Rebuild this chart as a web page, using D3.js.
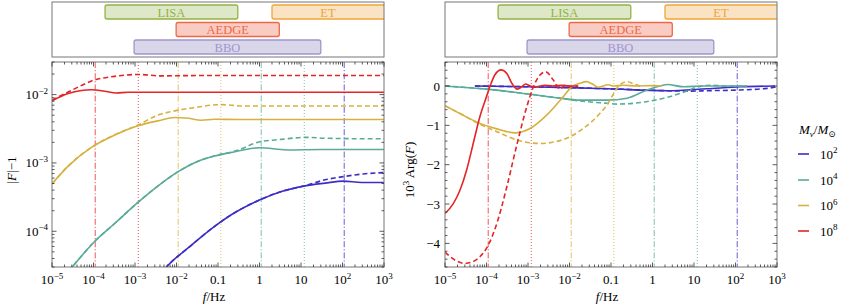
<!DOCTYPE html>
<html><head><meta charset="utf-8">
<script src="https://cdn.jsdelivr.net/npm/d3@7"></script>
<style>body{margin:0;background:#fff}svg{display:block;font-family:"Liberation Serif","DejaVu Serif",serif}</style>
</head><body><svg id="c" width="843" height="306"></svg>
<script>
// ---------- data ----------
const bandNames = ["LISA", "ET", "AEDGE", "BBO"];
const bandLo = [1.9e-4, 2.0, 9.8e-3, 9.5e-4];
const bandHi = [0.30, 5e3, 3.0, 30];
const bandRow = [0, 0, 1, 2];
const bandFill = ["#dee8c9", "#f9e3c3", "#f9ccc3", "#dad6ea"];
const bandStroke = ["#93b343", "#efa53c", "#ef6844", "#9f95cd"];

const massExp = ["2", "4", "6", "8"];
const massColor = ["#3d2dc6", "#5aab98", "#d7b13f", "#e32527"];
const refDashDot = [110, 1.1, 1.1e-2, 1.1e-4];
const refDotted = [1200, 12, 0.117, 1.2e-3];

const xTickExp = [-5, -4, -3, -2, -1, 0, 1, 2, 3];
const yTickExpL = [-4, -3, -2];
const yTickR = [0, -1, -2, -3, -4];

// |F|-1 (left), log10 f and values
const absM2_lf = [-2.4, -2.22, -1.72, -1.05, -0.67, 0.012, 0.53, 1.1, 1.58, 2.02, 2.46, 3];
const absM2_v = [2.3e-5, 3.1e-5, 5.7e-5, 1.22e-4, 1.76e-4, 2.89e-4, 3.82e-4, 4.62e-4, 5.06e-4, 5.42e-4, 5.17e-4, 5.17e-4];
const absM2d_lf = [-2.4, -2.22, -1.72, -1.05, -0.67, 0.012, 0.53, 1.1, 1.58, 2.02, 2.5, 3];
const absM2d_v = [2.3e-5, 3.1e-5, 5.7e-5, 1.22e-4, 1.76e-4, 2.89e-4, 3.82e-4, 4.66e-4, 5.66e-4, 6.3e-4, 6.9e-4, 7.23e-4];

const absM4_lf = [-4.6, -4.494, -3.95, -3.49, -2.93, -2.45, -1.96, -1.48, -1.04, -0.59, -0.27, 0.012, 0.655, 1.5, 3];
const absM4_v = [2.6e-5, 3.1e-5, 7.33e-5, 1.3e-4, 2.64e-4, 4.59e-4, 7.46e-4, 1.06e-3, 1.28e-3, 1.46e-3, 1.6e-3, 1.67e-3, 1.55e-3, 1.57e-3, 1.57e-3];
const absM4d_lf = [-4.6, -4.494, -3.95, -3.49, -2.93, -2.45, -1.96, -1.48, -1.04, -0.59, 0.012, 0.53, 1.1, 1.6, 2.5, 3];
const absM4d_v = [2.6e-5, 3.1e-5, 7.33e-5, 1.3e-4, 2.64e-4, 4.59e-4, 7.46e-4, 1.06e-3, 1.29e-3, 1.49e-3, 2.04e-3, 2.21e-3, 2.37e-3, 2.3e-3, 2.26e-3, 2.26e-3];

const absM6_lf = [-5, -4.61, -4.05, -3.49, -2.93, -2.45, -2.04, -1.72, -1.40, -1.08, -0.5, 3];
const absM6_v = [4.94e-4, 9.0e-4, 1.69e-3, 2.56e-3, 3.49e-3, 4.13e-3, 4.62e-3, 4.5e-3, 4.22e-3, 4.35e-3, 4.33e-3, 4.33e-3];
const absM6d_lf = [-5, -4.61, -4.05, -3.49, -2.93, -2.45, -2.04, -1.56, -1.04, -0.91, -0.75, -0.43, 0, 3];
const absM6d_v = [4.94e-4, 9.0e-4, 1.69e-3, 2.58e-3, 3.58e-3, 5.0e-3, 5.78e-3, 6.46e-3, 7.1e-3, 7.14e-3, 7.05e-3, 6.82e-3, 6.82e-3, 6.82e-3];

const absM8_lf = [-5, -4.61, -4.29, -4.05, -3.73, -3.45, -3.17, -2.5, 3];
const absM8_v = [0.0081, 0.01035, 0.0115, 0.0118, 0.0112, 0.01055, 0.0108, 0.0108, 0.0108];
const absM8d_lf = [-5, -4.61, -4.29, -4.05, -3.49, -2.93, -2.37, -1.5, 3];
const absM8d_v = [0.0083, 0.0109, 0.0136, 0.0158, 0.0185, 0.0197, 0.0188, 0.019, 0.019];

// 10^3 Arg(F) (right)
const argM2_lf = [-4.28, -3, -2, -1.07, 0.35, 1.31, 2.12, 2.95];
const argM2_v = [0, -0.02, -0.04, -0.07, -0.12, -0.07, -0.02, 0.0];
const argM2d_lf = [-4.28, -3, -2, -1.07, 0.35, 0.9, 1.31, 2.12, 2.76, 3];
const argM2d_v = [0, -0.02, -0.04, -0.07, -0.12, -0.13, -0.12, -0.10, -0.06, -0.02];

const argM4_lf = [-5, -4, -2.95, -2.3, -1.75, -1.1, -0.61, -0.13, 0.11, 0.35, 0.75, 1.2, 2.28];
const argM4_v = [0.0, -0.08, -0.21, -0.30, -0.36, -0.36, -0.31, -0.10, -0.02, 0.04, -0.02, 0.0, 0.0];
const argM4d_lf = [-5, -4, -2.95, -2.3, -1.75, -1.1, -0.86, -0.29, 0.27, 0.75, 1.07, 1.39, 1.8, 2.28];
const argM4d_v = [0.0, -0.08, -0.21, -0.30, -0.38, -0.44, -0.46, -0.42, -0.31, -0.16, -0.03, 0.02, 0.0, 0.0];

const argM6_lf = [-5, -4.64, -4.16, -3.75, -3.31, -2.95, -2.55, -2.15, -1.95, -1.75, -1.59, -1.45, -1.31, -1.07, -0.93, -0.7, -0.4, 0, 0.23];
const argM6_v = [-0.50, -0.70, -0.95, -1.09, -1.19, -1.08, -0.74, -0.27, -0.02, 0.07, 0.11, 0.05, -0.03, 0.03, 0.0, 0.02, 0.0, 0.01, 0.0];
const argM6d_lf = [-5, -4.64, -4.16, -3.75, -3.27, -2.71, -2.07, -1.67, -1.27, -1.07, -0.95, -0.8, -0.6, -0.45, -0.3];
const argM6d_v = [-0.50, -0.70, -0.97, -1.16, -1.37, -1.46, -1.33, -1.08, -0.70, -0.44, -0.22, 0.02, 0.11, 0.05, 0.0];

const argM8_lf = [-5, -4.8, -4.64, -4.48, -4.32, -4.16, -4.0, -3.92, -3.8, -3.65, -3.51, -3.39, -3.26, -3.15, -3.06, -2.95, -2.8, -2.6, -2.4, -2.2, -2.0, -1.79];
const argM8_v = [-3.24, -2.99, -2.65, -2.14, -1.46, -0.78, -0.27, -0.02, 0.28, 0.41, 0.32, 0.07, -0.08, -0.02, 0.05, 0.0, -0.02, 0.02, 0.0, 0.02, 0.0, 0.0];
const argM8d_lf = [-5, -4.75, -4.52, -4.3, -4.16, -3.96, -3.75, -3.51, -3.27, -3.03, -2.87, -2.71, -2.57, -2.39, -2.23, -2.1, -1.95, -1.79];
const argM8d_v = [-4.22, -4.43, -4.51, -4.45, -4.34, -4.05, -3.49, -2.56, -1.50, -0.53, -0.02, 0.28, 0.36, 0.15, -0.08, 0.03, -0.02, 0.0];

const absSolid = [[absM2_lf, absM2_v], [absM4_lf, absM4_v], [absM6_lf, absM6_v], [absM8_lf, absM8_v]];
const absDash = [[absM2d_lf, absM2d_v], [absM4d_lf, absM4d_v], [absM6d_lf, absM6d_v], [absM8d_lf, absM8d_v]];
const argSolid = [[argM2_lf, argM2_v], [argM4_lf, argM4_v], [argM6_lf, argM6_v], [argM8_lf, argM8_v]];
const argDash = [[argM2d_lf, argM2d_v], [argM4d_lf, argM4d_v], [argM6d_lf, argM6d_v], [argM8d_lf, argM8d_v]];

// ---------- drawing ----------
const svg = d3.select("#c");
const FRAME = "#777", TICK = "#333", TXT = "#000";
const FS = 13, SFS = 9;
const panels = [
  {x0: 52, x1: 384, id: "L"},
  {x0: 445, x1: 777, id: "R"}
];
const PT = 62, PB = 267;
const defs = svg.append("defs");

function supLabel(sel, base, sup) {
  sel.text(base);
  if (sup !== null) sel.append("tspan").attr("dy", -5.5).attr("font-size", SFS).text(sup);
}
function xLabel(sel, e) {
  if (e === -1) supLabel(sel, "0.1", null);
  else if (e === 0) supLabel(sel, "1", null);
  else if (e === 1) supLabel(sel, "10", null);
  else supLabel(sel, "10", e < 0 ? "\u2212" + (-e) : String(e));
}

panels.forEach((p, pi) => {
  const x = d3.scaleLog().domain([1e-5, 1e3]).range([p.x0, p.x1]);
  const y = pi === 0 ? d3.scaleLog().domain([3e-5, 3e-2]).range([PB, PT])
                     : d3.scaleLinear().domain([-4.6, 0.61]).range([PB, PT]);
  const g = svg.append("g");

  // band box
  defs.append("clipPath").attr("id", "bc" + p.id).append("rect")
    .attr("x", p.x0).attr("y", 2).attr("width", p.x1 - p.x0).attr("height", 55);
  const bg = g.append("g").attr("clip-path", `url(#bc${p.id})`);
  const rowY = [5, 22.5, 40], rowH = 14;
  bandNames.forEach((n, i) => {
    const xa = x(bandLo[i]), xb = Math.min(x(bandHi[i]), p.x1 + 5);
    bg.append("rect").attr("x", xa).attr("y", rowY[bandRow[i]]).attr("width", xb - xa).attr("height", rowH)
      .attr("rx", 2).attr("fill", bandFill[i]).attr("stroke", bandStroke[i]).attr("stroke-width", 1.3);
    const cx = (xa + Math.min(xb, p.x1)) / 2;
    bg.append("text").attr("x", cx).attr("y", rowY[bandRow[i]] + 11.5).attr("text-anchor", "middle")
      .attr("font-size", 12.5).attr("fill", bandStroke[i]).text(n);
  });
  g.append("rect").attr("x", p.x0).attr("y", 2).attr("width", p.x1 - p.x0).attr("height", 55)
    .attr("fill", "none").attr("stroke", FRAME).attr("stroke-width", 1);

  // plot clip
  defs.append("clipPath").attr("id", "pc" + p.id).append("rect")
    .attr("x", p.x0).attr("y", PT).attr("width", p.x1 - p.x0).attr("height", PB - PT);
  const pg = g.append("g").attr("clip-path", `url(#pc${p.id})`);

  // reference vertical lines
  massColor.forEach((c, i) => {
    [[refDashDot[i], "6,2,1.2,2"], [refDotted[i], "1,2"]].forEach(([f, da]) => {
      pg.append("line").attr("x1", x(f)).attr("x2", x(f)).attr("y1", PT).attr("y2", PB)
        .attr("stroke", c).attr("stroke-width", 0.9).attr("stroke-dasharray", da).attr("opacity", 0.85);
    });
  });

  // curves
  const line = d3.line().x(d => x(Math.pow(10, d[0]))).y(d => y(d[1])).curve(d3.curveMonotoneX);
  const sol = pi === 0 ? absSolid : argSolid;
  const dsh = pi === 0 ? absDash : argDash;
  [0, 1, 2, 3].forEach(i => {
    const dd = dsh[i][0].map((lf, k) => [lf, dsh[i][1][k]]);
    pg.append("path").attr("d", line(dd)).attr("fill", "none").attr("stroke", massColor[i])
      .attr("stroke-width", 1.6).attr("stroke-dasharray", "5,3");
    const sd = sol[i][0].map((lf, k) => [lf, sol[i][1][k]]);
    pg.append("path").attr("d", line(sd)).attr("fill", "none").attr("stroke", massColor[i])
      .attr("stroke-width", 1.6);
  });

  // frame
  g.append("rect").attr("x", p.x0).attr("y", PT).attr("width", p.x1 - p.x0).attr("height", PB - PT)
    .attr("fill", "none").attr("stroke", FRAME).attr("stroke-width", 1);

  // x ticks (bottom and top)
  const tk = g.append("g").attr("stroke", TICK).attr("stroke-width", 0.8);
  for (let e = -5; e <= 3; e++) {
    for (let m = 1; m <= 9; m++) {
      if (e === 3 && m > 1) break;
      const xv = x(m * Math.pow(10, e));
      const L = m === 1 ? 4.5 : 2.5;
      tk.append("line").attr("x1", xv).attr("x2", xv).attr("y1", PB).attr("y2", PB - L);
      tk.append("line").attr("x1", xv).attr("x2", xv).attr("y1", PT).attr("y2", PT + L);
    }
  }
  xTickExp.forEach(e => {
    const t = g.append("text").attr("x", x(Math.pow(10, e))).attr("y", 284).attr("text-anchor", "middle")
      .attr("font-size", FS).attr("fill", TXT);
    xLabel(t, e);
  });

  // y ticks
  if (pi === 0) {
    for (let e = -5; e <= -2; e++) {
      for (let m = 1; m <= 9; m++) {
        const v = m * Math.pow(10, e);
        if (v < 3e-5 || v > 3e-2) continue;
        const yv = y(v), L = m === 1 ? 4.5 : 2.5;
        tk.append("line").attr("x1", p.x0).attr("x2", p.x0 + L).attr("y1", yv).attr("y2", yv);
        tk.append("line").attr("x1", p.x1).attr("x2", p.x1 - L).attr("y1", yv).attr("y2", yv);
      }
    }
    yTickExpL.forEach(e => {
      const t = g.append("text").attr("x", p.x0 - 4).attr("y", y(Math.pow(10, e)) + 4.5).attr("text-anchor", "end")
        .attr("font-size", FS).attr("fill", TXT);
      supLabel(t, "10", "\u2212" + (-e));
    });
  } else {
    for (let k = -23; k <= 3; k++) {
      const v = k * 0.2, yv = y(v), major = k % 5 === 0, L = major ? 4.5 : 2.5;
      tk.append("line").attr("x1", p.x0).attr("x2", p.x0 + L).attr("y1", yv).attr("y2", yv);
      tk.append("line").attr("x1", p.x1).attr("x2", p.x1 - L).attr("y1", yv).attr("y2", yv);
    }
    yTickR.forEach(v => {
      g.append("text").attr("x", p.x0 - 5).attr("y", y(v) + 4.5).attr("text-anchor", "end")
        .attr("font-size", FS).attr("fill", TXT).text(v === 0 ? "0" : "\u2212" + (-v));
    });
  }

  // x title
  const xt = g.append("text").attr("x", (p.x0 + p.x1) / 2 - 4).attr("y", 301).attr("text-anchor", "middle")
    .attr("font-size", FS).attr("fill", TXT);
  xt.append("tspan").attr("font-style", "italic").text("f");
  xt.append("tspan").text("/Hz");
});

// y titles
const yl = svg.append("text").attr("transform", "translate(16,170) rotate(-90)").attr("text-anchor", "middle")
  .attr("font-size", FS).attr("fill", TXT);
yl.append("tspan").text("|");
yl.append("tspan").attr("font-style", "italic").text("F");
yl.append("tspan").text("|\u22121");

const yr = svg.append("text").attr("transform", "translate(414,170) rotate(-90)").attr("text-anchor", "middle")
  .attr("font-size", FS).attr("fill", TXT);
yr.append("tspan").text("10");
yr.append("tspan").attr("dy", -5.5).attr("font-size", SFS).text("3");
yr.append("tspan").attr("dy", 5.5).text(" Arg(");
yr.append("tspan").attr("font-style", "italic").text("F");
yr.append("tspan").text(")");

// legend
const lg = svg.append("g");
const lt = lg.append("text").attr("x", 799).attr("y", 134).attr("font-size", FS).attr("fill", TXT);
lt.append("tspan").attr("font-style", "italic").text("M");
lt.append("tspan").attr("font-style", "italic").attr("font-size", SFS).attr("dy", 3).text("v");
lt.append("tspan").attr("dy", -3).text("/");
lt.append("tspan").attr("font-style", "italic").text("M");
lt.append("tspan").attr("font-size", SFS).attr("dy", 3).text("\u2299");
const legY = [154, 180, 205.5, 231];
massExp.forEach((e, i) => {
  lg.append("line").attr("x1", 798).attr("x2", 809).attr("y1", legY[i]).attr("y2", legY[i])
    .attr("stroke", massColor[i]).attr("stroke-width", 1.6);
  const t = lg.append("text").attr("x", 820).attr("y", legY[i] + 4.5).attr("font-size", FS).attr("fill", TXT);
  supLabel(t, "10", e);
});
</script></body></html>
